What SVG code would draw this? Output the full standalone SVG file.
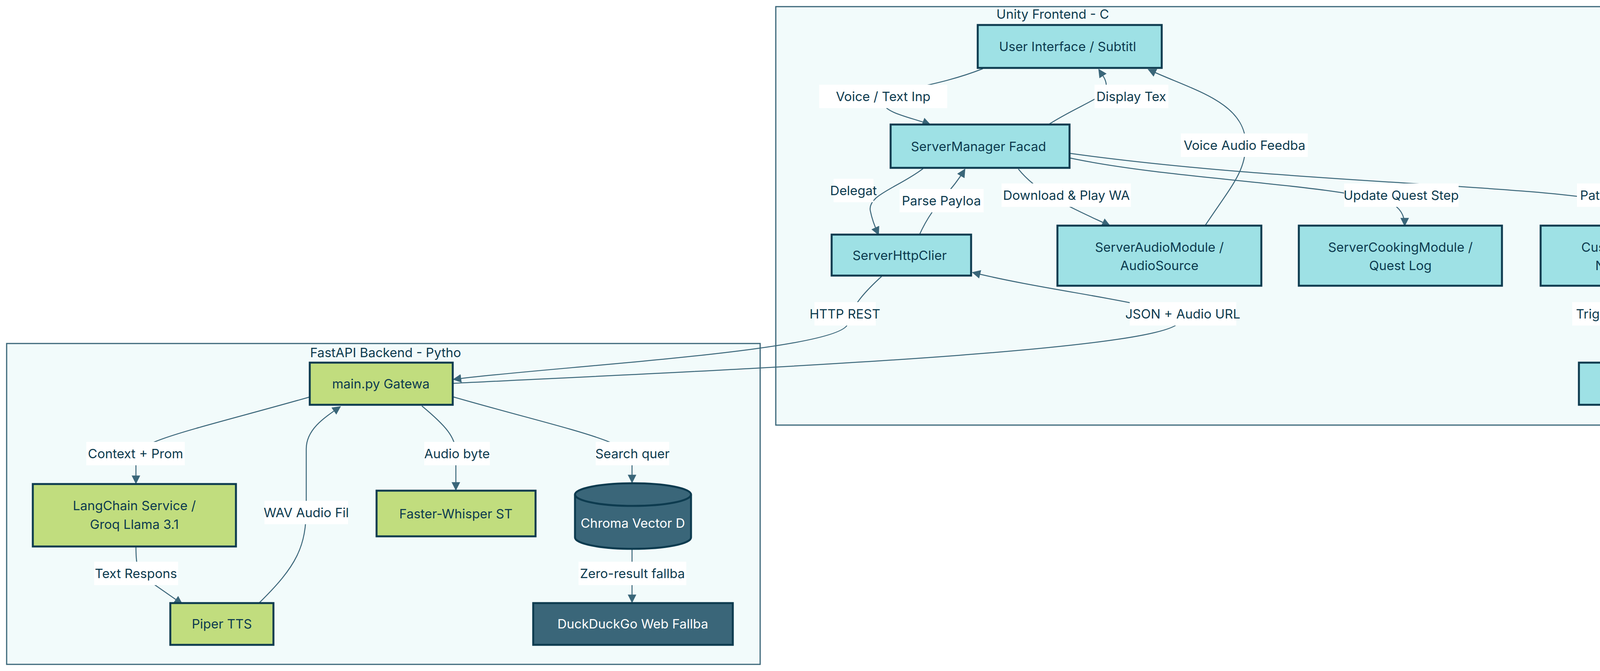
<svg xmlns="http://www.w3.org/2000/svg" width="4553" height="1719" viewBox="0 0 4553 1719">
<defs>
<marker id="arr" viewBox="0 0 10 10" refX="9" refY="5" markerWidth="22" markerHeight="22" orient="auto" markerUnits="userSpaceOnUse"><path d="M0,0 L10,5 L0,10 z" fill="#3a6679"/></marker>
<style>
text{font-family:Inter,"Open Sans","Liberation Sans",sans-serif;font-size:33px;fill:#0d3b4f;text-anchor:middle;dominant-baseline:central}
.cl{fill:#f2fbfb;stroke:#3a6679;stroke-width:3}
.u{fill:#9ee1e5;stroke:#0d3b4f;stroke-width:5}
.g{fill:#c1dd7e;stroke:#0d3b4f;stroke-width:5}
.d{fill:#3a6679;stroke:#0d3b4f;stroke-width:5}
.w{fill:#ffffff}
.e{fill:none;stroke:#3a6679;stroke-width:2.5;marker-end:url(#arr)}
.lb{fill:#ffffff;stroke:none}
</style>
</defs>
<rect width="4553" height="1719" fill="#ffffff"/>
<g id="cluster-unity"><rect class="cl" x="1986" y="17" width="2550" height="1072"/><text x="2695" y="36">Unity Frontend - C</text></g>
<g id="cluster-fastapi"><rect class="cl" x="17" y="880" width="1929" height="822"/><text x="987" y="903">FastAPI Backend - Pytho</text></g>
<g id="connectors">
<path class="e" d="M2516,176 C2380,230 2250,230 2259,262 C2266,290 2330,300 2381,319"/>
<path class="e" d="M2681,321 C2760,270 2830,250 2832,225 C2834,205 2822,192 2813,178"/>
<path class="e" d="M3085,578 C3150,480 3189,440 3189,370 C3189,260 3050,230 2940,178"/>
<path class="e" d="M2363,432 C2300,480 2220,500 2228,540 C2234,570 2244,590 2249,601"/>
<path class="e" d="M2353,603 C2390,520 2430,500 2470,434"/>
<path class="e" d="M2607,433 C2660,500 2760,540 2841,578"/>
<path class="e" d="M2740,405 C3000,460 3400,470 3560,520 C3590,535 3596,560 3596,578"/>
<path class="e" d="M2740,393 C3300,470 3900,470 4150,520 C4200,535 4212,555 4212,578"/>
<path class="e" d="M4212,732 L4212,927"/>
<path class="e" d="M2257,708 C2200,760 2180,790 2170,830 C2150,900 1400,940 1161,972"/>
<path class="e" d="M1161,982 C1800,950 3030,900 3020,820 C3010,780 2700,750 2490,698"/>
<path class="e" d="M793,1017 C500,1100 348,1130 348,1170 L348,1238"/>
<path class="e" d="M1080,1040 C1140,1090 1167,1120 1167,1160 L1167,1255"/>
<path class="e" d="M1161,1017 C1450,1100 1618,1130 1618,1180 L1618,1236"/>
<path class="e" d="M348,1400 C348,1440 350,1460 370,1480 L466,1547"/>
<path class="e" d="M663,1545 C760,1450 784,1400 784,1300 L784,1150 C784,1100 830,1070 871,1042"/>
<path class="e" d="M1618,1406 L1618,1543"/>
</g>
<g id="edge-labels">
<rect class="lb" x="2097" y="217" width="328" height="60"/><text x="2261" y="247">Voice / Text Inp</text>
<rect class="lb" x="2802" y="217" width="189" height="60"/><text x="2896" y="247">Display Tex</text>
<rect class="lb" x="3023" y="342" width="325" height="60"/><text x="3186" y="372">Voice Audio Feedba</text>
<rect class="lb" x="2134" y="458" width="102" height="60"/><text x="2185" y="488">Delegat</text>
<rect class="lb" x="2303" y="484" width="215" height="60"/><text x="2410" y="514">Parse Payloa</text>
<rect class="lb" x="2564" y="470" width="331" height="60"/><text x="2730" y="500">Download &amp; Play WA</text>
<rect class="lb" x="3441" y="470" width="293" height="60"/><text x="3587" y="500">Update Quest Step</text>
<rect class="lb" x="4037" y="470" width="342" height="60"/><text x="4208" y="500">Pathfind to Workstati</text>
<rect class="lb" x="2085" y="774" width="157" height="60"/><text x="2163" y="804">HTTP REST</text>
<rect class="lb" x="2892" y="774" width="273" height="60"/><text x="3028" y="804">JSON + Audio URL</text>
<rect class="lb" x="4025" y="774" width="366" height="60"/><text x="4208" y="804">Trigger locomotion/po</text>
<rect class="lb" x="221" y="1132" width="252" height="60"/><text x="347" y="1162">Context + Prom</text>
<rect class="lb" x="1086" y="1132" width="168" height="60"/><text x="1170" y="1162">Audio byte</text>
<rect class="lb" x="1525" y="1132" width="188" height="60"/><text x="1619" y="1162">Search quer</text>
<rect class="lb" x="677" y="1283" width="214" height="60"/><text x="784" y="1313">WAV Audio Fil</text>
<rect class="lb" x="241" y="1439" width="215" height="60"/><text x="348" y="1469">Text Respons</text>
<rect class="lb" x="1481" y="1439" width="276" height="60"/><text x="1619" y="1469">Zero-result fallba</text>
</g>
<g id="node-ui"><rect class="u" x="2503" y="64" width="471" height="110"/><text x="2733" y="119">User Interface / Subtitl</text></g>
<g id="node-servermanager"><rect class="u" x="2280" y="319" width="458" height="111"/><text x="2505" y="375">ServerManager Facad</text></g>
<g id="node-httpclient"><rect class="u" x="2129" y="601" width="357" height="105"/><text x="2303" y="654">ServerHttpClier</text></g>
<g id="node-audio"><rect class="u" x="2707" y="578" width="522" height="154"/><text x="2968" y="633">ServerAudioModule /</text><text x="2968" y="680">AudioSource</text></g>
<g id="node-cooking"><rect class="u" x="3325" y="578" width="520" height="154"/><text x="3585" y="633">ServerCookingModule /</text><text x="3585" y="680">Quest Log</text></g>
<g id="node-customer"><rect class="u" x="3944" y="578" width="520" height="154"/><text x="4204" y="633">CustomerManager /</text><text x="4204" y="680">NavMeshAgent</text></g>
<g id="node-npc"><rect class="u" x="4042" y="929" width="326" height="108"/><text x="4203" y="983">NPC Animato</text></g>
<g id="node-main"><rect class="g" x="793" y="929" width="366" height="108"/><text x="975" y="983">main.py Gatewa</text></g>
<g id="node-langchain"><rect class="g" x="84" y="1240" width="520" height="160"/><text x="344" y="1295">LangChain Service /</text><text x="344" y="1343">Groq Llama 3.1</text></g>
<g id="node-whisper"><rect class="g" x="964" y="1257" width="407" height="117"/><text x="1167" y="1316">Faster-Whisper ST</text></g>
<g id="node-chroma"><path class="d" d="M1472,1267 A148,29 0 0 1 1769,1267 L1769,1377 A148,29 0 0 1 1472,1377 Z"/><path d="M1472,1267 A148,29 0 0 0 1769,1267" fill="none" stroke="#0d3b4f" stroke-width="5"/><text class="w" x="1620" y="1340">Chroma Vector D</text></g>
<g id="node-piper"><rect class="g" x="436" y="1545" width="264" height="107"/><text x="568" y="1598">Piper TTS</text></g>
<g id="node-duckduckgo"><rect class="d" x="1365" y="1545" width="511" height="107"/><text class="w" x="1620" y="1598">DuckDuckGo Web Fallba</text></g>
</svg>
